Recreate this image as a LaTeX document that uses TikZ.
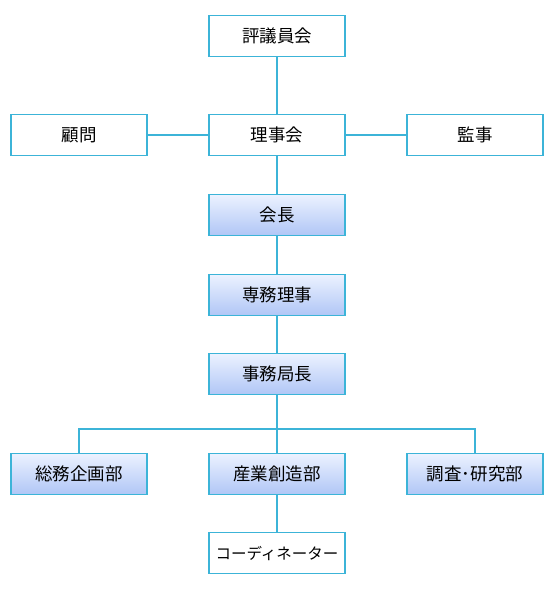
\documentclass[tikz,border=0pt]{standalone}
\usepackage{fontspec}
\setmainfont{Noto Sans CJK JP}
\usetikzlibrary{calc}

\definecolor{linecyan}{RGB}{60,180,216}
\definecolor{boxtop}{RGB}{236,242,255}
\definecolor{boxbottom}{RGB}{176,198,246}

\begin{document}
\begin{tikzpicture}[
		x=1pt, y=-1pt,
		font=\fontsize{17.5}{20}\selectfont,
		line width=1.3pt,
		plainbox/.style={draw=linecyan, fill=white, minimum width=136pt, minimum height=41pt, inner sep=0pt},
		shadebox/.style={plainbox, top color=boxtop, bottom color=boxbottom},
		link/.style={color=linecyan, line width=1.3pt}
		]
		
		% --- 1. Canvas ---
		\useasboundingbox (0,0) rectangle (555,600);
		
		% --- 2. Boards ---
		\node[plainbox] (hyogi)  at (277, 36)  {評議員会};
		\node[plainbox] (riji)   at (277, 135) {理事会};
		\node[plainbox] (komon)  at (79, 135)  {顧問};
		\node[plainbox] (kanji)  at (475, 135) {監事};
		
		% --- 3. Executive chain (shaded) ---
		\node[shadebox] (kaicho)  at (277, 215) {会長};
		\node[shadebox] (senmu)   at (277, 295) {専務理事};
		\node[shadebox] (kyokucho) at (277, 374) {事務局長};
		
		% --- 4. Departments ---
		\node[shadebox] (soumu)  at (79, 474)  {総務企画部};
		\node[shadebox] (sangyo) at (277, 474) {産業創造部};
		\node[shadebox] (chosa)  at (475, 474) {調査･研究部};
		
		\node[plainbox, font=\fontsize{15.5}{18}\selectfont] (coord) at (277, 553) {コーディネーター};
		
		% --- 5. Connectors ---
		\coordinate (branch) at (277, 429);
		\draw[link] (hyogi) -- (riji);
		\draw[link] (komon) -- (riji);
		\draw[link] (riji) -- (kanji);
		\draw[link] (riji) -- (kaicho);
		\draw[link] (kaicho) -- (senmu);
		\draw[link] (senmu) -- (kyokucho);
		\draw[link] (kyokucho) -- (sangyo);
		\draw[link] (soumu.north) |- (branch) -| (chosa.north);
		\draw[link] (sangyo) -- (coord);
		
	\end{tikzpicture}
\end{document}
